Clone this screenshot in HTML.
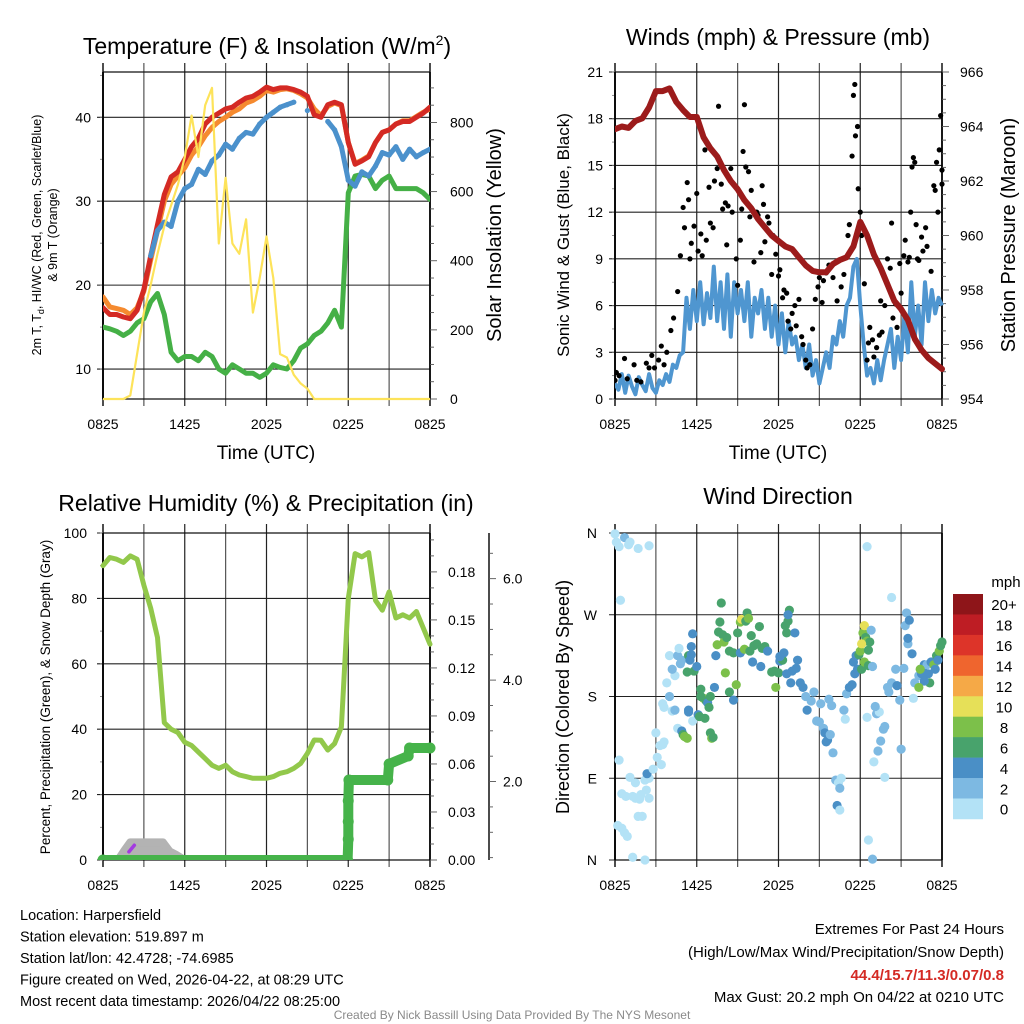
<!DOCTYPE html>
<html><head><meta charset="utf-8"><style>
html,body{margin:0;padding:0;background:#fff}
svg{display:block;font-family:"Liberation Sans",Arial,sans-serif}
</style></head><body>
<svg id="root" width="1024" height="1024" viewBox="0 0 1024 1024" xmlns="http://www.w3.org/2000/svg">
<rect width="1024" height="1024" fill="#fff"/>
</svg>
<script>
// ---------- DATA ----------
const HOURS = [0,0.5,1,1.5,2,2.5,3,3.5,4,4.5,5,5.5,6,6.5,7,7.5,8,8.5,9,9.5,10,10.5,11,11.5,12,12.5,13,13.5,14,14.5,15,15.5,16,16.5,17,17.5,18,18.5,19,19.5,20,20.5,21,21.5,22,22.5,23,23.5,24];
const TIME_LABELS = ["0825","1425","2025","0225","0825"];
const temp2m = [17.3,16.5,16.5,16.2,16.0,17.0,19.5,23.5,27.2,30.8,32.9,33.5,35.0,36.5,37.5,39.2,40.0,40.5,41.0,41.2,41.8,42.3,42.5,43.0,43.6,43.3,43.5,43.5,43.3,43.0,42.5,40.3,40.0,41.5,41.8,41.5,37.0,34.4,34.8,35.3,37.0,38.2,38.5,39.2,39.5,39.5,40.0,40.5,41.2];
const temp9m = [18.6,17.4,17.2,17.0,16.5,17.3,19.3,23.0,26.5,30.0,32.0,33.0,34.0,35.5,36.5,37.8,38.8,39.5,40.0,40.6,41.0,41.7,42.0,42.5,43.2,43.0,43.3,43.4,43.2,42.8,42.3,41.0,40.2,41.3,41.7,41.4,37.0,34.5,34.9,35.4,37.0,38.2,38.5,39.2,39.6,39.6,40.1,40.6,41.0];
const windChill = [null,null,null,null,null,null,null,23.5,26.5,27.5,27.0,30.0,31.5,32.0,33.8,33.2,34.8,35.5,36.8,36.2,37.5,38.2,38.0,39.2,40.0,40.6,41.2,41.5,41.8,null,40.8,null,null,39.5,38.5,36.5,32.5,31.8,33.5,33.0,34.2,35.8,35.5,36.5,35.0,36.2,35.3,35.8,36.2];
const dewPoint = [15.0,14.8,14.5,14.0,14.5,15.5,16.0,18.0,19.0,16.5,12.0,11.0,11.5,11.5,11.0,12.0,11.5,10.0,9.5,10.5,10.0,9.5,9.5,9.0,9.5,10.5,10.2,10.0,11.0,12.5,13.0,14.0,14.5,15.5,17.0,15.0,31.0,33.0,33.2,33.0,31.5,32.5,33.0,31.5,31.5,31.5,31.5,31.0,30.2];
const solar = [0,0,0,0,10,130,250,330,420,500,560,620,700,820,700,850,900,450,640,450,420,520,250,350,470,350,130,120,70,45,30,0,0,0,0,0,0,0,0,0,0,0,0,0,0,0,0,0,0];
const TEMP_TICKS = [10,20,30,40];
const SOLAR_TICKS = [0,200,400,600,800];

const pressure = [963.9,964.0,963.95,964.2,964.3,964.7,965.3,965.3,965.4,964.9,964.6,964.35,964.35,963.6,963.2,962.9,962.4,962.0,961.7,961.3,961.0,960.6,960.3,960.0,959.8,959.6,959.5,959.2,958.9,958.7,958.65,958.65,958.95,959.1,959.2,959.6,960.5,960.0,959.3,958.8,958.2,957.6,957.3,956.9,956.2,955.8,955.5,955.3,955.1];
const windSpeed = [1.0,0.6,1.6,0.4,1.5,0.8,0.3,1.4,0.9,0.5,1.6,0.7,0.4,
 1.2,0.9,1.6,1.1,2.2,2.0,2.8,3.0,
 6.5,4.5,7.0,5.0,7.5,4.8,6.8,5.2,
 8.5,5.0,7.5,4.5,8.0,4.0,7.5,5.5,
 7.0,5.0,7.5,4.0,6.5,5.5,7.0,4.5,
 6.5,4.0,6.0,3.5,5.5,3.0,5.0,3.5,
 4.0,2.5,3.5,2.0,3.5,1.5,2.5,1.0,
 2.0,3.0,2.0,4.0,3.5,5.0,4.0,6.0,
 6.5,8.5,9.0,6.0,3.5,1.5,2.0,1.0,
 2.5,1.2,2.5,3.5,4.5,2.0,4.0,2.5,
 5.5,3.0,7.5,4.0,6.0,3.5,7.5,5.0,
 7.0,5.5,6.5,6.0];
const gustHours = [0.0,0.1,0.3,0.7,0.9,1.4,1.6,1.9,2.3,2.5,2.7,2.9,3.2,3.4,3.6,3.8,4.1,4.3,4.6,4.8,5.0,5.1,5.3,5.4,5.5,5.6,5.8,6.0,6.1,6.3,6.4,6.6,6.7,6.9,7.0,7.2,7.3,7.5,7.6,7.8,7.9,8.1,8.2,8.3,8.5,8.6,8.9,9.0,9.2,9.3,9.4,9.5,9.6,9.8,9.9,10.0,10.2,10.4,10.5,10.7,10.8,10.9,11.0,11.2,11.3,11.5,11.6,11.8,12.0,12.1,12.3,12.4,12.6,12.7,12.9,13.0,13.2,13.3,13.5,13.7,13.8,14.0,14.1,14.3,14.5,14.7,14.9,15.0,15.2,15.3,15.5,15.7,16.0,16.3,16.6,16.8,17.1,17.2,17.4,17.5,17.6,17.65,17.8,17.85,18.0,18.1,18.3,18.5,18.6,18.7,18.9,19.0,19.2,19.4,19.5,19.6,19.8,20.0,20.2,20.3,20.4,20.6,20.7,20.9,21.0,21.2,21.3,21.5,21.6,21.7,21.8,21.9,22.0,22.1,22.2,22.3,22.5,22.6,22.8,22.9,23.2,23.4,23.5,23.6,23.7,23.8,23.9,24.0,24.0];
const gustVals = [1.2,1.7,1.5,2.6,1.3,2.2,1.2,1.1,2.3,2.0,2.8,2.0,2.5,3.4,2.2,3.0,4.4,5.2,6.9,9.2,12.3,11.0,13.9,12.8,9.0,10.0,11.1,13.2,9.5,10.6,9.2,16.0,10.2,13.6,11.3,11.0,14.0,14.8,18.8,13.8,12.2,12.6,9.9,12.4,14.8,12.0,9.0,7.3,10.2,12.2,15.9,18.9,14.9,14.6,11.7,13.4,8.8,12.0,11.8,9.4,13.7,12.5,10.1,11.7,11.3,8.0,10.5,9.3,7.9,8.3,6.5,7.0,6.8,5.0,4.5,5.5,6.0,4.7,6.4,4.0,3.5,2.5,2.0,2.2,4.5,6.4,7.2,7.8,6.2,7.6,8.1,8.6,7.8,6.3,7.2,8.0,10.5,11.2,15.6,19.5,20.2,16.9,17.5,13.5,12.0,10.5,7.4,2.5,3.6,4.6,3.8,2.7,3.3,4.1,6.3,4.3,6.0,9.0,8.4,11.3,5.2,6.1,4.6,8.7,6.8,9.2,10.2,8.8,9.1,12.0,14.9,15.5,15.2,11.2,9.0,8.9,10.4,9.5,11.0,9.8,8.2,13.7,13.4,15.2,12.0,16.0,18.2,13.8,14.7];
const WIND_TICKS = [0,3,6,9,12,15,18,21];
const PRES_TICKS = [954,956,958,960,962,964,966];

const rh = [90,92.5,92,91,93,92,84,77,68,42,40,39,36,35,33,31,29,28,29,27,26,25.5,25,25,25,25.5,26.5,27,28,29.5,32.6,36.7,36.6,33.6,35.6,40.7,80,93.7,92.7,94,79.4,76.4,82,74,75,74,76,71,66];
const precipStepHours = [0,17.95,18.0,18.0,18.0,18.05,20.9,21.0,22.4,22.5,24];
const precipStepVals  = [0,0,0.013,0.024,0.037,0.05,0.05,0.06,0.065,0.07,0.07];
const snowHours = [1.1,1.6,2.0,4.4,4.9,5.4,6.0];
const snowVals  = [0.45,0.65,0.8,0.8,0.62,0.55,0.45];
const RH_TICKS = [0,20,40,60,80,100];
const PRECIP_TICKS = [0,0.03,0.06,0.09,0.12,0.15,0.18];
const SNOW_TICKS = [2,4,6];

const dirHours = [0,0.1,0.3,0.7,1.0,1.1,1.7,2.5,0.4,0.3,0.2,0.5,0.7,0.9,1.3,2.2,0.5,0.8,1.3,1.5,1.8,1.7,2.0,1.9,2.3,2.5,1.1,1.5,2.2,2.5,2.35,2.8,3.1,3.4,3.6,3.0,3.3,3.5,3.6,3.5,3.8,4.0,4.2,4.4,4.4,4.0,4.2,4.6,4.8,4.9,4.7,5.4,4.6,5.7,
4.9,5.0,5.1,5.3,5.4,5.3,5.4,5.5,5.6,5.6,5.7,5.8,6.0,6.1,6.2,6.3,6.5,6.3,6.6,6.7,6.8,6.9,7.0,7.1,7.2,7.0,7.3,7.4,7.5,7.6,7.7,7.8,7.9,8.0,8.1,8.2,8.4,8.4,8.7,8.7,8.9,9.0,9.2,9.3,9.2,9.5,9.6,9.7,9.8,9.9,10.0,10.2,10.4,10.1,10.6,10.8,11.0,11.2,10.7,11.5,11.7,11.8,12.0,12.1,12.3,12.5,12.6,12.7,12.8,12.7,12.4,12.1,13.0,13.3,13.2,13.4,12.6,12.9,
13.6,13.8,14.0,14.1,14.4,14.6,14.8,15.0,15.1,15.3,15.4,15.5,15.6,15.8,15.7,15.9,16.0,16.2,16.4,16.5,16.3,16.5,16.6,16.8,16.9,17.0,17.2,17.4,17.6,17.8,17.7,17.5,17.9,18.0,18.1,18.2,18.3,18.4,18.3,18.5,18.6,18.7,18.1,18.6,
18.5,18.5,18.8,18.9,19.0,18.6,18.9,19.2,19.4,19.1,19.5,19.3,19.7,19.8,20.0,20.3,20.1,19.8,20.3,20.6,20.7,20.9,21.0,21.2,21.3,21.4,21.5,21.6,21.5,21.8,21.9,22.0,22.3,22.5,22.6,22.7,22.9,23.0,23.2,23.4,23.6,23.8,23.9,24.0,23.1,22.7,22.4,22.3,23.5,23.7];
const dirDeg = [359,350,345,355,347,350,343,346,286,110,38,35,30,26,3,0,73,70,70,68,67,48,48,72,77,68,91,85,88,90,95,100,113,105,130,140,126,127,168,172,195,180,164,165,203,225,210,225,216,220,233,165,145,153,
142,138,136,134,163,207,225,220,226,235,249,208,213,160,158,188,178,180,156,175,173,168,140,134,135,180,190,225,237,251,262,283,248,240,206,245,185,230,176,228,193,250,262,265,228,232,263,272,266,230,247,236,238,218,257,233,235,230,213,207,208,190,206,219,220,258,250,263,275,270,228,224,208,211,250,220,205,195,
195,190,180,165,175,185,153,152,172,145,140,130,132,138,177,170,118,88,85,79,60,55,90,165,155,183,190,193,205,210,225,218,226,230,210,250,258,245,218,241,231,240,238,214,
157,345,253,213,108,22,1,161,163,169,131,120,144,147,190,195,185,91,289,210,192,176,122,211,258,272,238,264,244,227,178,195,203,205,211,215,215,205,218,215,225,230,236,240,195,197,210,190,210,220];
const dirSpeed = [1,1,1,3,1,1,1,1,1,1,1,1,1,1,1,1,1,1,1,1,1,1,1,1,1,1,1,1,1,1,4,1,1,1,1,1,1,1,1,1,1,2,1,2,1,1,2,2,2,2,1,4,1,1,
4,6,8,8,4,6,6,5,4,4,4,6,4,4,6,6,8,6,6,6,4,6,6,8,6,6,4,4,8,6,6,6,6,8,8,6,6,6,4,6,8,6,8,10,4,8,6,6,8,6,6,6,6,4,6,6,6,4,4,6,6,8,6,4,6,6,6,6,6,4,4,4,4,4,4,4,4,4,
4,4,3,4,2,3,2,3,2,2,4,4,4,2,2,2,2,2,1,2,4,1,1,2,1,2,4,4,4,4,4,4,6,8,6,8,10,6,8,8,6,6,10,6,
1,1,2,2,1,1,2,2,1,2,2,2,2,2,2,2,2,1,1,2,4,2,2,2,2,2,2,4,4,4,1,2,2,4,4,4,3,4,5,8,6,8,6,6,6,4,8,8,4,5];
const DIR_LABELS = ["N","E","S","W","N"];
const SPEED_LEVELS = ["0","2","4","6","8","10","12","14","16","18","20+"];
const SPEED_COLORS = ["#b3e2f6","#7db9e2","#4a8fc6","#48a36c","#7cc04a","#e6e058","#f5a947","#ef652e","#dd3429","#be1d24","#8e1519"];

// ---------- HELPERS ----------
const NS = 'http://www.w3.org/2000/svg';
const root = document.getElementById('root');
function mk(tag, attrs, parent){ const e=document.createElementNS(NS,tag); for(const k in attrs) e.setAttribute(k,attrs[k]); (parent||root).appendChild(e); return e; }
function txt(str, x, y, size, anchor, parent, extra){ const t=mk('text',Object.assign({x:x,y:y,'font-size':size,'text-anchor':anchor||'middle',fill:'#000'},extra||{}),parent); t.textContent=str; return t; }
function lin(d0,d1,r0,r1){ return v => r0 + (v-d0)/(d1-d0)*(r1-r0); }
function group(name){ const g=mk('g',{});   return g; }
function pathFrom(xsArr, ysArr, xf, yf){ let d='', pen=false; for(let i=0;i<xsArr.length;i++){ const v=ysArr[i]; if(v===null||v===undefined){pen=false;continue;} d+=(pen?'L':'M')+xf(xsArr[i]).toFixed(1)+','+yf(v).toFixed(1); pen=true; } return d; }

function frame(g, P, yTicks, yf, minorStep, yMin, yMax){
  for(let h=0;h<=24;h+=3){ const x=P.xf(h);
    const l=mk('line',{x1:x,y1:P.top-9,x2:x,y2:P.bot+7,stroke:(h%6===0?'#222':'#555'),'stroke-width':(h===0||h===24)?1.6:1.2},g);
      }
  yTicks.forEach(v=>{ const y=yf(v);
    const l=mk('line',{x1:P.left-6,y1:y,x2:P.right,y2:y,stroke:'#222','stroke-width':1.1},g);
      });
  if(minorStep){ for(let v=yMin; v<=yMax+1e-9; v+=minorStep){ const y=yf(v); if(y<P.top-0.5) continue;
    mk('line',{x1:P.left-3,y1:y,x2:P.left,y2:y,stroke:'#777','stroke-width':0.8},g);} }
  mk('line',{x1:P.left,y1:P.top,x2:P.right,y2:P.top,stroke:'#111','stroke-width':1.2},g);
  mk('line',{x1:P.left,y1:P.bot,x2:P.right,y2:P.bot,stroke:'#111','stroke-width':1.2},g);
  const a=mk('line',{x1:P.left,y1:P.top,x2:P.left,y2:P.bot,stroke:'#000','stroke-width':1.8},g);
   
  const r=mk('line',{x1:P.right,y1:P.top,x2:P.right,y2:P.bot,stroke:'#000','stroke-width':1.6},g);
   
  TIME_LABELS.forEach((s,i)=>{ const tt=txt(s,P.xf(i*6),P.bot+30,14,'middle',g);
      });
}

// ---------- PANEL 1 ----------
(function(){
  const g=group('temperature-panel');
  const P={left:103,right:430,top:72,bot:399}; P.xf=lin(0,24,P.left,P.right);
  const yT=lin(6.43,45.4,P.bot,P.top), yS=lin(0,946,P.bot,P.top);
  frame(g,P,TEMP_TICKS,yT,5,10,45);
  TEMP_TICKS.forEach(v=>{ const t=txt(String(v),P.left-12,yT(v)+5,14,'end',g);   });
  for(let v=0;v<=940;v+=50){ const y=yS(v); mk('line',{x1:P.right,y1:y,x2:P.right+(v%200===0?7:4),y2:y,stroke:'#555','stroke-width':0.9},g); }
  SOLAR_TICKS.forEach(v=>{ const t=txt(String(v),P.right+20,yS(v)+5,14,'start',g);   });
  const cp=mk('clipPath',{id:'c1'},g); mk('rect',{x:P.left,y:P.top-2,width:P.right-P.left,height:P.bot-P.top+4},cp);
  const s=mk('g',{'clip-path':'url(#c1)'},g);
  const e1=mk('path',{d:pathFrom(HOURS,dewPoint,P.xf,yT),fill:'none',stroke:'#45b046','stroke-width':5,'stroke-linejoin':'round','stroke-linecap':'round'},s);
   
  const e2=mk('path',{d:pathFrom(HOURS,temp9m,P.xf,yT),fill:'none',stroke:'#f58a2f','stroke-width':5,'stroke-linejoin':'round','stroke-linecap':'round'},s);
   
  const e3=mk('path',{d:pathFrom(HOURS,temp2m,P.xf,yT),fill:'none',stroke:'#d42a24','stroke-width':5,'stroke-linejoin':'round','stroke-linecap':'round'},s);
   
  const e4=mk('path',{d:pathFrom(HOURS,windChill,P.xf,yT),fill:'none',stroke:'#4b91cc','stroke-width':5,'stroke-linejoin':'round','stroke-linecap':'round'},s);
   
  HOURS.forEach((h,i)=>{ if(windChill[i]!==null){ const c=mk('circle',{cx:P.xf(h),cy:yT(windChill[i]),r:2.6,fill:'#4b91cc'},s);   } });
  const e5=mk('path',{d:pathFrom(HOURS,solar,P.xf,yS),fill:'none',stroke:'#fde35a','stroke-width':2.2,'stroke-linejoin':'round'},s);
   
  const ti=txt('',267,54,23,'middle',g); ti.innerHTML='Temperature (F) &amp; Insolation (W/m<tspan dy="-9" font-size="14">2</tspan><tspan dy="9">)</tspan>';
   
  const xl=txt('Time (UTC)',266,459,19,'middle',g);  
  const yl=txt('',0,0,12.5,'middle',g,{transform:'translate(41,235) rotate(-90)'}); yl.innerHTML='2m T, T<tspan font-size="9" dy="3">d</tspan><tspan dy="-3">, HI/WC (Red, Green, Scarlet/Blue)</tspan>';
   
  const yl2=txt('& 9m T (Orange)',0,0,12.5,'middle',g,{transform:'translate(57,235) rotate(-90)'});  
  const yr=txt('Solar Insolation (Yellow)',0,0,20,'middle',g,{transform:'translate(501,235) rotate(-90)'});  
})();

// ---------- PANEL 2 ----------
(function(){
  const g=group('winds-panel');
  const P={left:615,right:942,top:72,bot:399}; P.xf=lin(0,24,P.left,P.right);
  const yW=lin(0,21,P.bot,P.top), yP=lin(954,966,P.bot,P.top);
  frame(g,P,WIND_TICKS,yW,1.5,0,21);
  WIND_TICKS.forEach(v=>{ const t=txt(String(v),P.left-12,yW(v)+5,14,'end',g);   });
  for(let v=954;v<=966.01;v+=0.5){ const y=yP(v); mk('line',{x1:P.right,y1:y,x2:P.right+(Math.abs(v%2)<0.01?7:4),y2:y,stroke:'#555','stroke-width':0.9},g); }
  PRES_TICKS.forEach(v=>{ const t=txt(String(v),P.right+18,yP(v)+5,14,'start',g);   });
  const cp=mk('clipPath',{id:'c2'},g); mk('rect',{x:P.left,y:P.top-4,width:P.right-P.left+4,height:P.bot-P.top+6},cp);
  const s=mk('g',{'clip-path':'url(#c2)'},g);
  const wh=windSpeed.map((v,i)=>i*0.25);
  const w=mk('path',{d:pathFrom(wh,windSpeed,P.xf,yW),fill:'none',stroke:'#4f96d0','stroke-width':4,'stroke-linejoin':'round'},s);
   
  gustHours.forEach((h,i)=>{ const c=mk('circle',{cx:P.xf(h),cy:yW(gustVals[i]),r:2.6,fill:'#000'},s);
      });
  const p=mk('path',{d:pathFrom(HOURS,pressure,P.xf,yP),fill:'none',stroke:'#9c1b1b','stroke-width':6,'stroke-linejoin':'round','stroke-linecap':'round'},s);
   
  const ti=txt('Winds (mph) & Pressure (mb)',778,45,23,'middle',g);  
  const xl=txt('Time (UTC)',778,459,19,'middle',g);  
  const yl=txt('Sonic Wind & Gust (Blue, Black)',0,0,17,'middle',g,{transform:'translate(569,235) rotate(-90)'});  
  const yr=txt('Station Pressure (Maroon)',0,0,20,'middle',g,{transform:'translate(1015,235) rotate(-90)'});  
})();

// ---------- PANEL 3 ----------
(function(){
  const g=group('humidity-panel');
  const P={left:103,right:430,top:533,bot:860}; P.xf=lin(0,24,P.left,P.right);
  const yR=lin(0,100,P.bot,P.top), yPr=lin(0,0.2043,P.bot,P.top), ySn=lin(0,6.9,883,P.top);
  frame(g,P,RH_TICKS,yR,10,0,100);
  RH_TICKS.forEach(v=>{ const t=txt(String(v),P.left-16,yR(v)+5,14,'end',g);   });
  for(let k=0;k<=20;k++){ const v=k*0.01; const y=yPr(v); mk('line',{x1:P.right,y1:y,x2:P.right+(k%3===0?7:4),y2:y,stroke:'#555','stroke-width':0.9},g); }
  PRECIP_TICKS.forEach(v=>{ const t=txt(v.toFixed(2),P.right+18,yPr(v)+5,14,'start',g);   });
  const sa=mk('line',{x1:489,y1:P.top,x2:489,y2:P.bot,stroke:'#000','stroke-width':1.4},g);
   
  for(let v=0.5;v<=6.9;v+=0.5){ const y=ySn(v); if(y>P.bot) continue; mk('line',{x1:489,y1:y,x2:489+(Math.abs(v%2)<0.01?7:4),y2:y,stroke:'#555','stroke-width':0.9},g); }
  SNOW_TICKS.forEach(v=>{ const t=txt(v.toFixed(1),503,ySn(v)+5,14,'start',g);   });
  const cp=mk('clipPath',{id:'c3'},g); mk('rect',{x:P.left-8,y:P.top-4,width:P.right-P.left+16,height:P.bot-P.top+4},cp);
  const s=mk('g',{'clip-path':'url(#c3)'},g);
  let sd='M'+P.xf(snowHours[0])+','+P.bot; snowHours.forEach((h,i)=>{ sd+='L'+P.xf(h).toFixed(1)+','+ySn(snowVals[i]).toFixed(1); }); sd+='L'+P.xf(snowHours[snowHours.length-1])+','+P.bot+'Z';
  const sn=mk('path',{d:sd,fill:'#b3b3b3',stroke:'#b3b3b3','stroke-width':8,'stroke-linejoin':'round'},s);
   
  const pu=mk('line',{x1:P.xf(1.9),y1:yR(2.5),x2:P.xf(2.3),y2:yR(4.5),stroke:'#a33be0','stroke-width':3.5,'stroke-linecap':'round'},s);
   
  const rl=mk('path',{d:pathFrom(HOURS,rh,P.xf,yR),fill:'none',stroke:'#92c84b','stroke-width':5,'stroke-linejoin':'round','stroke-linecap':'round'},s);
   
  let pd=''; precipStepHours.forEach((h,i)=>{ pd+=(i?'L':'M')+P.xf(h).toFixed(1)+','+yPr(precipStepVals[i]).toFixed(1); });
  const pl=mk('path',{d:pd,fill:'none',stroke:'#46b34a','stroke-width':10,'stroke-linejoin':'round','stroke-linecap':'round'},s);
   
  precipStepHours.forEach((h,i)=>{ const c=mk('circle',{cx:P.xf(h),cy:yPr(precipStepVals[i]),r:5.5,fill:'#46b34a'},s);
      });
  const ti=txt('Relative Humidity (%) & Precipitation (in)',266,511,23,'middle',g);  
  const yl=txt('Percent, Precipitation (Green), & Snow Depth (Gray)',0,0,13.5,'middle',g,{transform:'translate(50,697) rotate(-90)'});  
})();

// ---------- PANEL 4 ----------
(function(){
  const g=group('wind-direction-panel');
  const P={left:615,right:942,top:533,bot:860}; P.xf=lin(0,24,P.left,P.right);
  const yD=lin(0,360,P.bot,P.top);
  const dt=[0,90,180,270,360];
  frame(g,P,dt,yD,0,0,0);
  dt.forEach((v,i)=>{ const t=txt(DIR_LABELS[i],P.left-18,yD(v)+5,14,'end',g);   });
  const cp=mk('clipPath',{id:'c4'},g); mk('rect',{x:P.left-6,y:P.top-6,width:P.right-P.left+12,height:P.bot-P.top+12},cp);
  const s=mk('g',{'clip-path':'url(#c4)'},g);
  dirHours.forEach((h,i)=>{ const bin=Math.min(10,Math.floor(dirSpeed[i]/2));
    const c=mk('circle',{cx:P.xf(h),cy:yD(dirDeg[i]),r:4.6,fill:SPEED_COLORS[bin]},s);
      });
  const cb=group('speed-colorbar');
  const top=594, bh=20.45;
  SPEED_LEVELS.forEach((lab,k)=>{ const idx=10-k; const y=top+k*bh;
    const r=mk('rect',{x:953,y:y,width:30,height:bh+0.3,fill:SPEED_COLORS[idx]},cb);
     
    const t=txt(SPEED_LEVELS[idx],1004,y+bh/2+6,15,'middle',cb);   });
  const mu=txt('mph',1006,587,15,'middle',cb);  
  const ti=txt('Wind Direction',778,504,23,'middle',g);  
  const yl=txt('Direction (Colored By Speed)',0,0,18,'middle',g,{transform:'translate(569,697) rotate(-90)'});  
})();

// ---------- FOOTER ----------
(function(){
  const g=group('footer-info');
  const L=['Location: Harpersfield','Station elevation: 519.897 m','Station lat/lon: 42.4728; -74.6985','Figure created on Wed, 2026-04-22, at 08:29 UTC','Most recent data timestamp: 2026/04/22 08:25:00'];
  L.forEach((s,i)=>{ const t=txt(s,20,920+i*21.5,14.5,'start',g);   });
  const a=txt('Extremes For Past 24 Hours',1004,934,15,'end',g);  
  const b=txt('(High/Low/Max Wind/Precipitation/Snow Depth)',1004,957,15,'end',g);  
  const c=txt('44.4/15.7/11.3/0.07/0.8',1004,980,15,'end',g,{fill:'#d42a24','font-weight':'bold'});  
  const d=txt('Max Gust: 20.2 mph On 04/22 at 0210 UTC',1004,1002,15,'end',g);  
  const e=txt('Created By Nick Bassill Using Data Provided By The NYS Mesonet',512,1019,12,'middle',g,{fill:'#8a8a8a'});  
})();
</script>
</body></html>
